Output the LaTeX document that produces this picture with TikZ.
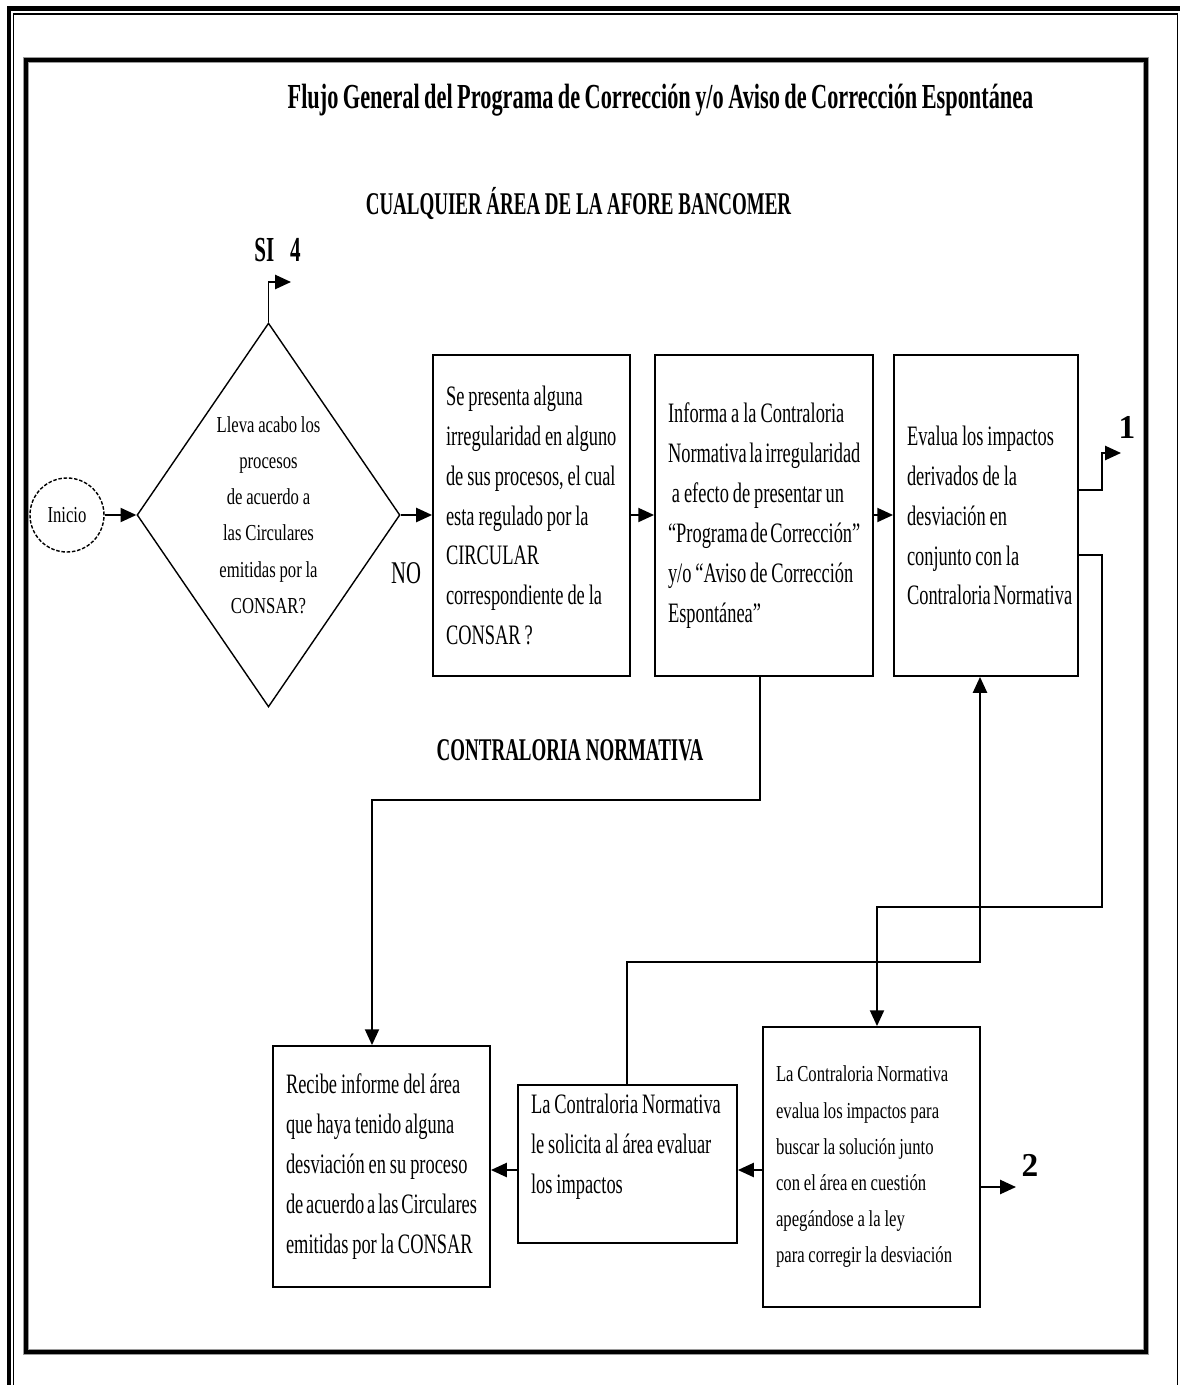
\documentclass[tikz,border=0pt]{standalone}
\usepackage{fontspec}
\setmainfont{Liberation Serif}
\newfontfamily\boxfont[FakeStretch=0.655, WordSpace=0.85]{Liberation Serif}
\newfontfamily\smallfont[FakeStretch=0.73, WordSpace=0.9]{Liberation Serif}
\newfontfamily\headfont[FakeStretch=0.6]{Liberation Serif}
\newfontfamily\titlefont[FakeStretch=0.635, WordSpace=0.8]{Liberation Serif}
\usetikzlibrary{shapes.geometric, arrows.meta, positioning}
\definecolor{framegray}{HTML}{9A9A9A}

\begin{document}
\begin{tikzpicture}[x=0.02cm, y=-0.02cm,
  proc/.style={draw, line width=1.1pt, align=flush left, inner xsep=0.26cm,
    inner ysep=2pt, font=\boxfont\fontsize{16}{22.7}\selectfont,
    execute at begin node={\hyphenpenalty=10000\exhyphenpenalty=10000\hbadness=10000\hfuzz=2cm}},
  procsmall/.style={proc, font=\smallfont\fontsize{13}{20.6}\selectfont},
  decision/.style={diamond, draw, line width=0.8pt, aspect=0.685, inner sep=0pt,
    minimum width=5.26cm, minimum height=7.68cm, align=center,
    font=\smallfont\fontsize{13}{20.6}\selectfont},
  flow/.style={line width=1.1pt, -{Triangle[length=9pt,width=8pt]}},
  head/.style={font=\headfont\bfseries\fontsize{18}{20}\selectfont},
  tag/.style={font=\bfseries\fontsize{19}{20}\selectfont}]
  \useasboundingbox (0,0) rectangle (1179,1385);

  % Page frame
  \draw[line width=2.3pt] (9,1390) -- (9,8.5) -- (1190,8.5);
  \draw[line width=0.85pt] (13.5,1390) -- (13.5,14) -- (1177.5,14) -- (1177.5,1390);
  \draw[line width=3.6pt, framegray] (26,60) rectangle (1146,1352);
  \draw[line width=2.2pt] (26,60) rectangle (1146,1352);

  % Headings
  \node[font=\titlefont\bfseries\fontsize{20}{22}\selectfont] (title) at (660.5,100)
    {Flujo General del Programa de Corrección y/o Aviso de Corrección Espontánea};
  \node[head] (area) at (578.5,203) {CUALQUIER ÁREA DE LA AFORE BANCOMER};
  \node[head] (contra) at (570,750) {CONTRALORIA NORMATIVA};

  % Start and decision
  \node[circle, draw, dashed, dash pattern=on 2pt off 1pt, line width=0.8pt,
    minimum size=1.48cm, inner sep=0pt, font=\smallfont\fontsize{13}{15}\selectfont]
    (inicio) at (67,515) {Inicio};
  \node[decision] (dec) at (268.5,515)
    {Lleva acabo los\\ procesos\\ de acuerdo a\\ las Circulares\\ emitidas por la\\ CONSAR?};
  \node[head, font=\headfont\bfseries\fontsize{20}{22}\selectfont] (si) at (277.5,250) {SI\hspace{9pt}4};
  \node[font=\boxfont\fontsize{18}{20}\selectfont] (no) at (406,573) {NO};
  \coordinate (siend) at (291,282);

  % Upper process boxes
  \node[proc, text width=3.42cm, minimum height=6.42cm] (b1) at (531.5,515.5)
    {Se presenta alguna\\ irregularidad~en~alguno\\ de~sus~procesos,~el~cual\\ esta regulado por la\\ CIRCULAR\\ correspondiente de la\\ CONSAR ?};
  \node[proc, text width=3.84cm, minimum height=6.42cm] (b2) at (764,515.5)
    {Informa a la Contraloria\\ Normativa~la~irregularidad\\ \ a efecto de presentar un\\ “Programa~de~Corrección”\\ y/o~“Aviso~de~Corrección\\ Espontánea”};
  \node[proc, text width=3.16cm, minimum height=6.42cm] (b3) at (986,515.5)
    {Evalua los impactos\\ derivados de la\\ desviación en\\ conjunto con la\\ Contraloria~Normativa};
  \node[tag] (one) at (1127,427) {1};
  \coordinate (oneend) at (1121,453);

  % Lower process boxes
  \node[proc, text width=3.82cm, minimum height=4.82cm] (b4) at (381.5,1166.5)
    {Recibe informe del área\\ que haya tenido alguna\\ desviación~en~su~proceso\\ de~acuerdo~a~las~Circulares\\ emitidas~por~la~CONSAR};
  \node[proc, text width=3.86cm, minimum height=3.16cm] (b5) at (627.5,1164)
    {La~Contraloria~Normativa\\ le~solicita~al~área~evaluar\\ los impactos\\ ~};
  \node[procsmall, text width=3.82cm, minimum height=5.6cm] (b6) at (871.5,1167)
    {La~Contraloria~Normativa\\ evalua~los~impactos~para\\ buscar la solución junto\\ con el área en cuestión\\ apegándose a la ley\\ para~corregir~la~desviación};
  \node[tag] (two) at (1030,1165) {2};
  \coordinate (twoend) at (1016,1187);

  % Connectors
  \draw[flow] (inicio) -- (dec.west);
  \draw[flow] (dec.east) -- (dec.east -| b1.west);
  \draw[flow] (dec.north) |- (siend);
  \draw[flow] (b1.east |- 0,515) -- (b2.west |- 0,515);
  \draw[flow] (b2.east |- 0,515) -- (b3.west |- 0,515);
  \draw[flow] (b3.east |- 0,490) -| (1102,453) -- (oneend);
  \draw[flow] (b3.east |- 0,555) -- (1102,555) |- (877,907) -- (b6.north -| 877,0);
  \draw[flow] (b2.south -| 760,0) |- (372,800) -- (b4.north -| 372,0);
  \draw[flow] (b5.north -| 627,0) |- (980,962) -- (b3.south -| 980,0);
  \draw[flow] (b6.west |- 0,1170) -- (b5.east |- 0,1170);
  \draw[flow] (b5.west |- 0,1170) -- (b4.east |- 0,1170);
  \draw[flow] (b6.east |- 0,1187) -- (twoend);
\end{tikzpicture}
\end{document}
